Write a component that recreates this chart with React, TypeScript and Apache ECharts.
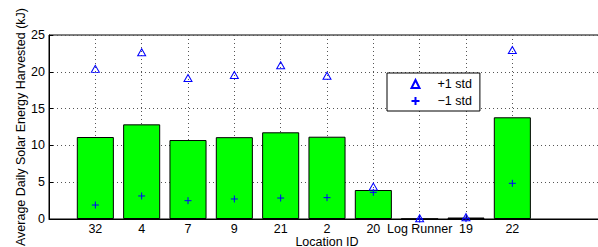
import React, { useEffect, useRef } from "react";
import * as echarts from "echarts";

const categories = ["32", "4", "7", "9", "21", "2", "20", "Log Runner", "19", "22"];
const meanValues = [11.14, 12.86, 10.73, 11.12, 11.78, 11.18, 3.94, 0.02, 0.2, 13.82];
const plusStd = [20.4, 22.65, 19.16, 19.57, 20.88, 19.47, 4.4, 0.1, 0.25, 22.96];
const minusStd = [1.9, 3.13, 2.49, 2.72, 2.85, 2.9, 3.62, 0.0, 0.05, 4.85];
const yTicks = [0, 5, 10, 15, 20, 25];

const FONT = "'Liberation Sans', Arial, Helvetica, sans-serif";
const PLUS = "path://M4,0L4,8M0,4L8,4";

export default function App() {
  const ref = useRef<HTMLDivElement>(null);
  useEffect(() => {
    if (!ref.current) return;
    const chart = echarts.init(ref.current, undefined, { renderer: "svg" });
    const axisData = [""].concat(categories, ["", ""]);
    const inRange = (i: number) => i >= 1 && i <= categories.length;
    chart.setOption({
      animation: false,
      backgroundColor: "#fff",
      textStyle: { fontFamily: FONT },
      grid: {
        left: 49,
        right: 1,
        top: 35,
        bottom: 28,
        containLabel: false,
        outerBoundsMode: "none",
        show: true,
        borderColor: "#000",
        borderWidth: 1,
        backgroundColor: "#fff",
      },
      legend: {
        orient: "vertical",
        left: 387,
        top: 73,
        padding: [4, 8, 3, 22],
        itemWidth: 8,
        itemHeight: 8,
        itemGap: 3,
        borderColor: "#000",
        borderWidth: 1,
        backgroundColor: "#fff",
        data: ["+1 std", "\u22121 std"],
        textStyle: { fontFamily: FONT, fontSize: 12.5, color: "#000", lineHeight: 14, padding: [0, 0, 0, 13] },
      },
      xAxis: {
        type: "category",
        boundaryGap: false,
        data: axisData,
        name: "Location ID",
        nameLocation: "middle",
        nameGap: 17,
        nameMoveOverlap: false,
        nameTextStyle: { fontFamily: FONT, fontSize: 12.5, lineHeight: 11, color: "#000" },
        axisLine: { lineStyle: { color: "#000", width: 1 } },
        axisTick: { show: true, inside: true, length: 4, interval: (i: number) => inRange(i), lineStyle: { color: "#000" } },
        axisLabel: {
          interval: (i: number) => inRange(i),
          fontFamily: FONT,
          fontSize: 12.5,
          lineHeight: 12,
          color: "#000",
          margin: 4,
        },
        splitLine: {
          show: true,
          interval: (i: number) => inRange(i),
          lineStyle: { color: "#555", type: [1, 3], width: 1 },
        },
      },
      yAxis: {
        type: "value",
        min: yTicks[0],
        max: yTicks[yTicks.length - 1],
        interval: 5,
        name: "Average Daily Solar Energy Harvested (kJ)",
        nameLocation: "middle",
        nameGap: 22,
        nameMoveOverlap: false,
        nameTextStyle: { fontFamily: FONT, fontSize: 12.5, color: "#000" },
        axisLine: { show: true, lineStyle: { color: "#000", width: 1 } },
        axisTick: { show: true, inside: true, length: 4, lineStyle: { color: "#000" } },
        axisLabel: { fontFamily: FONT, fontSize: 12.5, color: "#000", margin: 4 },
        splitLine: { show: true, lineStyle: { color: "#555", type: [1, 3], width: 1 } },
      },
      series: [
        {
          type: "bar",
          name: "mean",
          barWidth: "80%",
          data: meanValues.map((v, i) => [i + 1, v]),
          itemStyle: { color: "#00ff00", borderColor: "#000", borderWidth: 1 },
        },
        {
          type: "scatter",
          name: "+1 std",
          symbol: "triangle",
          symbolSize: [8, 7],
          data: plusStd.map((v, i) => [i + 1, v]),
          itemStyle: { color: "none", borderColor: "#0000ff", borderWidth: 1, opacity: 1 },
          z: 5,
        },
        {
          type: "scatter",
          name: "\u22121 std",
          symbol: PLUS,
          symbolSize: 7,
          data: minusStd.map((v, i) => [i + 1, v]),
          itemStyle: { color: "none", borderColor: "#0000ff", borderWidth: 1, opacity: 1 },
          z: 5,
        },
      ],
    });
    return () => chart.dispose();
  }, []);
  return (
    <div style={{ position: "fixed", left: 0, top: 0, width: 598, height: 247, overflow: "hidden", background: "#fff" }}>
      <div ref={ref} style={{ width: 606, height: 247 }} />
    </div>
  );
}
